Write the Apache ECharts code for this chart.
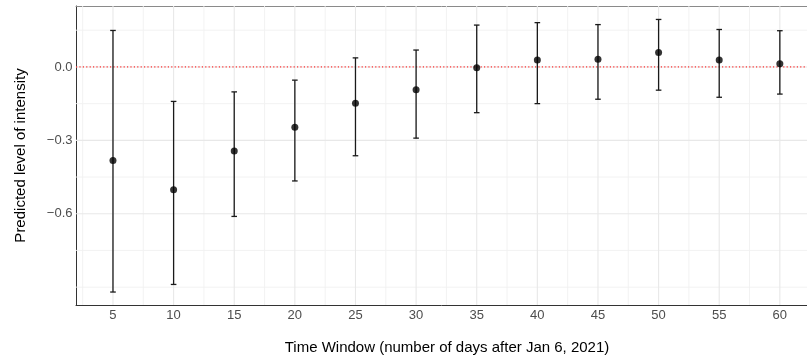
<!DOCTYPE html>
<html><head><meta charset="utf-8">
<script src="https://cdn.jsdelivr.net/npm/echarts@6/dist/echarts.min.js"></script>
<style>html,body{margin:0;padding:0;background:#fff}#c{width:807px;height:360px}</style>
</head><body><div id="c"></div>
<script>
const windows = [5, 10, 15, 20, 25, 30, 35, 40, 45, 50, 55, 60];
const estimate = [-0.382, -0.502, -0.344, -0.247, -0.148, -0.093, -0.003, 0.028, 0.031, 0.059, 0.028, 0.013];
const lower = [-0.920, -0.889, -0.611, -0.466, -0.363, -0.291, -0.187, -0.150, -0.132, -0.095, -0.124, -0.111];
const upper = [0.149, -0.141, -0.102, -0.054, 0.037, 0.069, 0.171, 0.181, 0.173, 0.194, 0.153, 0.148];
const xTickLabels = [5, 10, 15, 20, 25, 30, 35, 40, 45, 50, 55, 60];
const xMinorGrid = [2.5, 7.5, 12.5, 17.5, 22.5, 27.5, 32.5, 37.5, 42.5, 47.5, 52.5, 57.5, 62.5];
const yTickLabels = [0, -0.3, -0.6];
const yMinorGrid = [0.15, -0.15, -0.45, -0.75, -0.9];
const referenceLine = 0;

const FONT = '"Liberation Sans", Arial, sans-serif';
const chart = echarts.init(document.getElementById('c'), null, {renderer: 'canvas'});

// grid line items: [axis (0 = vertical at x, 1 = horizontal at y), value, kind (0 minor, 1 major, 2 reference)]
const gridItems = [];
xMinorGrid.forEach(v => gridItems.push([0, v, 0]));
yMinorGrid.forEach(v => gridItems.push([1, v, 0]));
xTickLabels.forEach(v => gridItems.push([0, v, 1]));
yTickLabels.forEach(v => gridItems.push([1, v, 1]));

const fmt = v => {
  const s = Math.abs(v).toFixed(1);
  return (v < -1e-9 ? '\u2212' : '') + s;
};

function lineRender(params, api) {
  const dir = api.value(0), v = api.value(1), kind = api.value(2);
  const cs = params.coordSys;
  let shape;
  if (dir === 0) {
    const p = api.coord([v, 0]);
    shape = {x1: p[0], y1: cs.y, x2: p[0], y2: cs.y + cs.height};
  } else {
    const p = api.coord([10, v]);
    shape = {x1: cs.x, y1: p[1], x2: cs.x + cs.width, y2: p[1]};
  }
  let style;
  if (kind === 2) style = {stroke: '#ff0000', lineWidth: 1, lineDash: [1.2, 2.2]};
  else if (kind === 1) style = {stroke: '#e8e8e8', lineWidth: 1.1};
  else style = {stroke: '#f1f1f1', lineWidth: 0.9};
  return {type: 'line', shape: shape, style: style, silent: true};
}

chart.setOption({
  animation: false,
  backgroundColor: '#fff',
  textStyle: {fontFamily: FONT},
  grid: {left: 76, top: 6, right: 0, bottom: 53, show: false},
  xAxis: [{
    type: 'value', min: 1.95, max: 62.24,
    name: 'Time Window (number of days after Jan 6, 2021)',
    nameLocation: 'middle', nameGap: 35,
    nameTextStyle: {color: '#000', fontSize: 15, fontFamily: FONT, padding: [0, 0, 0, 11]},
    axisLine: {show: true, onZero: false, lineStyle: {color: '#333', width: 1}},
    axisTick: {show: false},
    splitLine: {show: false},
    axisLabel: {customValues: xTickLabels, color: '#4d4d4d', fontSize: 13, margin: 4, fontFamily: FONT}
  }, {
    type: 'value', min: 1.95, max: 62.24, position: 'top',
    axisLine: {show: true, onZero: false, lineStyle: {color: '#8a8a8a', width: 1}},
    axisTick: {show: false}, axisLabel: {show: false}, splitLine: {show: false}
  }],
  yAxis: {
    type: 'value', min: -0.973, max: 0.249,
    name: 'Predicted level of intensity',
    nameLocation: 'middle', nameGap: 48,
    nameTextStyle: {color: '#000', fontSize: 15, fontFamily: FONT},
    axisLine: {show: true, onZero: false, lineStyle: {color: '#333', width: 1}},
    axisTick: {show: false},
    splitLine: {show: false},
    axisLabel: {customValues: yTickLabels, formatter: fmt, color: '#4d4d4d', fontSize: 13, margin: 3.5, fontFamily: FONT}
  },
  series: [
    {
      type: 'custom', z: 1, silent: true,
      data: gridItems,
      renderItem: lineRender
    },
    {
      type: 'custom', z: 2, silent: true,
      data: [[1, referenceLine, 2]],
      renderItem: lineRender
    },
    {
      type: 'custom', z: 3,
      data: windows.map((w, i) => [w, lower[i], upper[i]]),
      renderItem: function (params, api) {
        const x = api.value(0), lo = api.value(1), hi = api.value(2);
        const pHi = api.coord([x, hi]);
        const pLo = api.coord([x, lo]);
        const hw = 2.8;
        const st = {stroke: '#1a1a1a', lineWidth: 1.3};
        return {type: 'group', children: [
          {type: 'line', shape: {x1: pHi[0], y1: pHi[1], x2: pLo[0], y2: pLo[1]}, style: st},
          {type: 'line', shape: {x1: pHi[0] - hw, y1: pHi[1], x2: pHi[0] + hw, y2: pHi[1]}, style: st},
          {type: 'line', shape: {x1: pLo[0] - hw, y1: pLo[1], x2: pLo[0] + hw, y2: pLo[1]}, style: st}
        ]};
      }
    },
    {
      type: 'scatter', z: 4,
      data: windows.map((w, i) => [w, estimate[i]]),
      symbol: 'circle', symbolSize: 7,
      itemStyle: {color: '#000'}
    }
  ]
});
</script></body></html>
